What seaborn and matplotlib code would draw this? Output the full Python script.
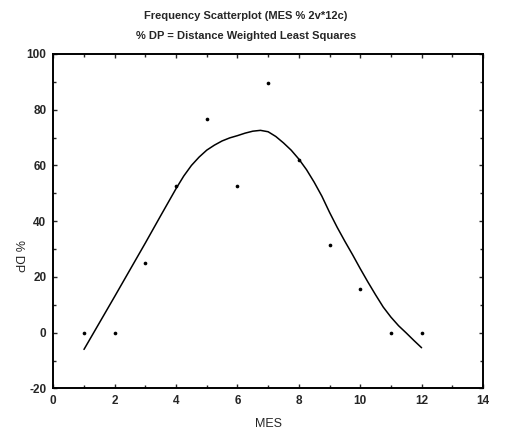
import numpy as np
import pandas as pd
import matplotlib
matplotlib.use("Agg")
import matplotlib.pyplot as plt
import seaborn as sns
from matplotlib.ticker import MultipleLocator

# observed points (month vs % DP)
mes = [1, 2, 3, 4, 5, 6, 7, 8, 9, 10, 11, 12]
dp = [0, 0, 25, 52.5, 76.5, 52.5, 89.5, 62, 31.5, 15.5, 0, 0]

# distance weighted least squares curve
curve_x = [1, 1.5, 2, 2.5, 3, 3.5, 4, 4.25, 4.5, 4.75, 5, 5.25, 5.5, 5.75,
           6, 6.25, 6.5, 6.75, 7, 7.25, 7.5, 7.75, 8, 8.25, 8.5, 8.75, 9,
           9.25, 9.5, 9.75, 10, 10.25, 10.5, 10.75, 11, 11.25, 11.5, 11.75, 12]
curve_y = [-6, 3.5, 13, 22.6, 32.2, 42, 51.7, 56.2, 60, 63, 65.5, 67.3,
           68.8, 69.9, 70.7, 71.6, 72.3, 72.6, 72.1, 70.4, 68.1, 65.5, 62.3,
           58.5, 54, 49, 43.2, 37.8, 32.8, 28, 23, 18.2, 13.6, 9.2, 5.6, 2.5,
           -0.1, -2.8, -5.4]

df_pts = pd.DataFrame({"MES": mes, "% DP": dp})
df_fit = pd.DataFrame({"MES": curve_x, "% DP": curve_y})

sns.set_style("ticks")
plt.rcParams['font.family'] = ['Liberation Sans', 'DejaVu Sans']
plt.rcParams['axes.unicode_minus'] = False

fig = plt.figure(figsize=(5.21, 4.34), dpi=100)
ax = fig.add_axes([0.1023, 0.105, 0.8247, 0.7706])

sns.lineplot(data=df_fit, x="MES", y="% DP", color="black", linewidth=1.1,
             ax=ax, sort=True)
sns.scatterplot(data=df_pts, x="MES", y="% DP", color="black", s=7,
                edgecolor="black", linewidth=0, ax=ax, zorder=3)

ax.set_xlim(0, 14)
ax.set_ylim(-20, 100)
ax.xaxis.set_major_locator(MultipleLocator(2))
ax.xaxis.set_minor_locator(MultipleLocator(1))
ax.yaxis.set_major_locator(MultipleLocator(20))
ax.yaxis.set_minor_locator(MultipleLocator(10))
ax.tick_params(which="both", direction="in", top=True, right=True,
               labelsize=8.5, width=1, pad=5)
ax.tick_params(which="major", length=3)
ax.tick_params(which="minor", length=2)
for lab in ax.get_xticklabels() + ax.get_yticklabels():
    lab.set_fontweight("bold")
for sp in ax.spines.values():
    sp.set_linewidth(1.4)
    sp.set_color("black")

ax.set_xlabel("MES", fontsize=9, labelpad=8)
ax.set_ylabel("% DP", fontsize=9, rotation=270)
ax.yaxis.set_label_coords(-0.097, 0.395)

fig.text(0.472, 0.963, "Frequency Scatterplot (MES % 2v*12c)",
         ha="center", va="center", fontsize=8, fontweight="bold")
fig.text(0.472, 0.917, "% DP = Distance Weighted Least Squares",
         ha="center", va="center", fontsize=8, fontweight="bold")

fig.savefig("out.png", dpi=100)
